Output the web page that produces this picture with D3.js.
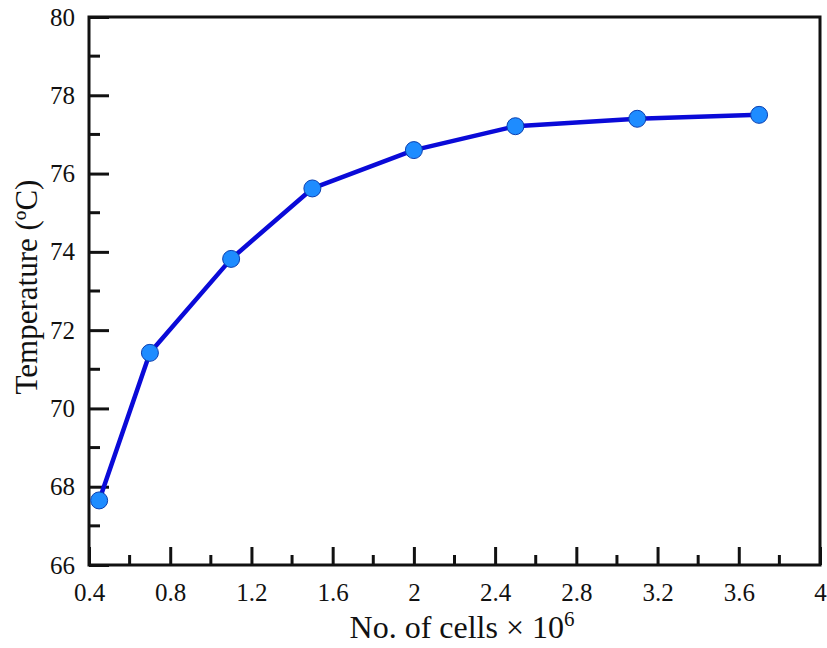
<!DOCTYPE html>
<html>
<head>
<meta charset="utf-8">
<script src="https://cdn.jsdelivr.net/npm/d3@7"></script>
<style>
  body { margin: 0; background: #fff; }
  text { font-family: "Liberation Serif", "Times New Roman", serif; fill: #111; }
</style>
</head>
<body>
<div id="chart"></div>
<script>
var cells = [0.45, 0.7, 1.1, 1.5, 2.0, 2.5, 3.1, 3.7];
var temps = [67.65, 71.42, 73.82, 75.62, 76.6, 77.21, 77.4, 77.5];
var xTicks = [0.4, 0.8, 1.2, 1.6, 2, 2.4, 2.8, 3.2, 3.6, 4];
var yTicks = [66, 68, 70, 72, 74, 76, 78, 80];

var svgWidth = 827;
var svgHeight = 648;
var margin = { top: 17, right: 7, bottom: 83, left: 89 };
var width = svgWidth - margin.left - margin.right;
var height = svgHeight - margin.top - margin.bottom;

var svg = d3.select("#chart").append("svg")
    .attr("width", svgWidth)
    .attr("height", svgHeight);

var chartGroup = svg.append("g")
    .attr("transform", `translate(${margin.left}, ${margin.top})`);

var x = d3.scaleLinear().domain([0.4, 4]).range([0, width]);
var y = d3.scaleLinear().domain([66, 80]).range([height, 0]);

// frame
chartGroup.append("rect")
    .attr("width", width)
    .attr("height", height)
    .attr("fill", "none")
    .attr("stroke", "#111")
    .attr("stroke-width", 3);

// minor ticks
var xMinor = d3.range(0.6, 4, 0.4);
var yMinor = d3.range(67, 80, 2);

var bottomAxis = d3.axisBottom(x)
    .tickValues(xTicks)
    .tickFormat(d => +d.toFixed(1) + "")
    .tickSize(-18)
    .tickPadding(18);
var leftAxis = d3.axisLeft(y)
    .tickValues(yTicks)
    .tickSize(-20)
    .tickPadding(14);

var xAxis = chartGroup.append("g")
    .attr("transform", `translate(0, ${height})`)
    .call(bottomAxis);
var yAxis = chartGroup.append("g").call(leftAxis);

[xAxis, yAxis].forEach(function (g) {
    g.select(".domain").remove();
    g.attr("font-family", null).attr("font-size", null);
    g.selectAll(".tick line").attr("stroke", "#111").attr("stroke-width", 3);
    g.selectAll(".tick text").style("font-size", "25px").style("font-family", "'Liberation Serif', serif");
});

chartGroup.append("g").selectAll("line")
    .data(xMinor)
    .enter()
    .append("line")
    .attr("x1", d => x(d)).attr("x2", d => x(d))
    .attr("y1", height).attr("y2", height - 10)
    .attr("stroke", "#111").attr("stroke-width", 3);

chartGroup.append("g").selectAll("line")
    .data(yMinor)
    .enter()
    .append("line")
    .attr("x1", 0).attr("x2", 11)
    .attr("y1", d => y(d)).attr("y2", d => y(d))
    .attr("stroke", "#111").attr("stroke-width", 3);

var data = cells.map((c, i) => ({ x: c, y: temps[i] }));

var line = d3.line()
    .x(d => x(d.x))
    .y(d => y(d.y));

chartGroup.append("path")
    .datum(data)
    .attr("d", line)
    .attr("fill", "none")
    .attr("stroke", "#0a0ad8")
    .attr("stroke-width", 4.5)
    .attr("stroke-linejoin", "round");

chartGroup.selectAll("circle")
    .data(data)
    .enter()
    .append("circle")
    .attr("cx", d => x(d.x))
    .attr("cy", d => y(d.y))
    .attr("r", 8.5)
    .attr("fill", "#1e8cff")
    .attr("stroke", "#0a3fb0")
    .attr("stroke-width", 1);

// axis titles
svg.append("text")
    .attr("x", 462)
    .attr("y", 638)
    .attr("text-anchor", "middle")
    .style("font-size", "32px")
    .html("No. of cells × 10<tspan dy='-12' style='font-size:21px'>6</tspan>");

svg.append("text")
    .attr("transform", "translate(37, 287) rotate(-90)")
    .attr("text-anchor", "middle")
    .style("font-size", "31px")
    .text("Temperature (ºC)");
</script>
</body>
</html>
